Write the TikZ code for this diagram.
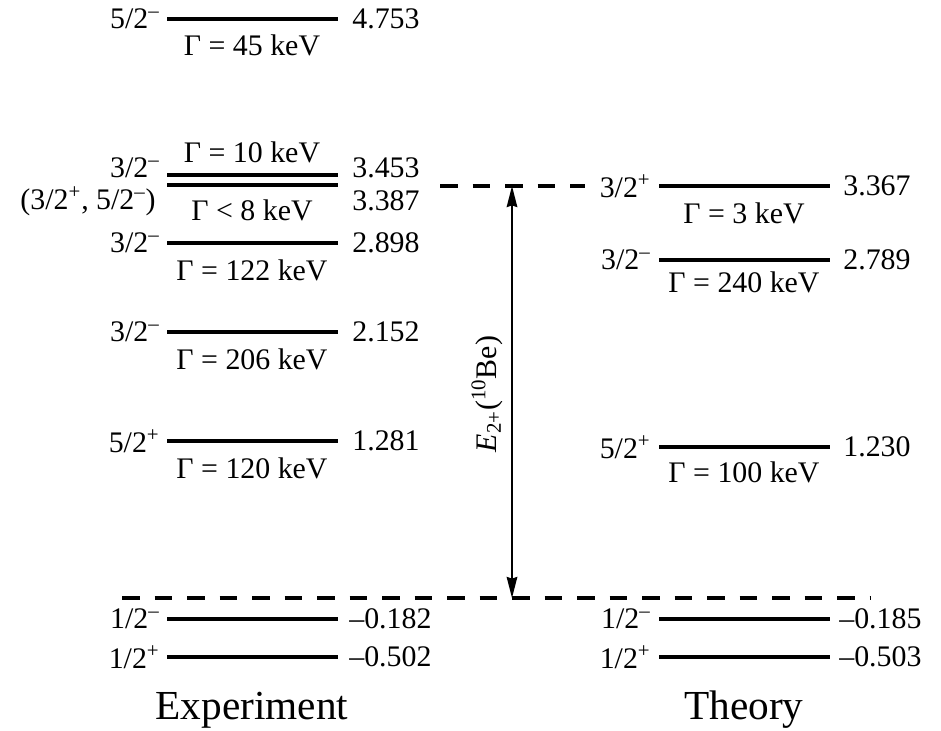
\documentclass[tikz,border=0pt]{standalone}
\usepackage{fontspec}
\setmainfont{Liberation Serif}
\usetikzlibrary{arrows.meta, positioning}

\begin{document}
\begin{tikzpicture}[
    x=0.02cm, y=-0.02cm,
    every node/.style={font=\fontsize{17}{19}\selectfont, inner sep=0pt},
    lvl/.style={line width=2.3pt},
    ref/.style={line width=2.3pt, dash pattern=on 10pt off 8.5pt},
    spin/.style={anchor=east},
    en/.style={anchor=west},
    wid/.style={anchor=center},
    title/.style={font=\fontsize{23.5}{26}\selectfont},
    arr/.style={{Stealth[length=12pt, width=6pt, inset=1pt]}-{Stealth[length=12pt, width=6pt, inset=1pt]}, line width=1.2pt}
]
    \useasboundingbox (0,0) rectangle (941,731);

    % Experiment levels
    \draw[lvl] (167,19) -- (338,19);
    \draw[lvl] (167,175) -- (338,175);
    \draw[lvl] (167,185) -- (338,185);
    \draw[lvl] (167,243) -- (338,243);
    \draw[lvl] (167,332) -- (338,332);
    \draw[lvl] (167,441) -- (338,441);
    \draw[lvl] (167,619) -- (338,619);
    \draw[lvl] (167,657) -- (338,657);

    \node[spin] (s1) at (160,19) {5/2\textsuperscript{–}};
    \node[spin] (s2) at (160,168) {3/2\textsuperscript{–}};
    \node[spin] (s3) at (156,201) {(3/2\textsuperscript{+}, 5/2\textsuperscript{–})};
    \node[spin] (s4) at (160,243) {3/2\textsuperscript{–}};
    \node[spin] (s5) at (160,332) {3/2\textsuperscript{–}};
    \node[spin] (s6) at (160,441) {5/2\textsuperscript{+}};
    \node[spin] (s7) at (160,619) {1/2\textsuperscript{–}};
    \node[spin] (s8) at (160,657) {1/2\textsuperscript{+}};

    \node[en] (e1) at (352,19) {4.753};
    \node[en] (e2) at (352,168) {3.453};
    \node[en] (e3) at (352,201) {3.387};
    \node[en] (e4) at (352,243) {2.898};
    \node[en] (e5) at (352,332) {2.152};
    \node[en] (e6) at (352,441) {1.281};
    \node[en] (e7) at (349,619) {–0.182};
    \node[en] (e8) at (349,657) {–0.502};

    \node[wid] (w1) at (252,45) {Γ = 45 keV};
    \node[wid] (w2) at (252,152) {Γ = 10 keV};
    \node[wid] (w3) at (252,210) {Γ < 8 keV};
    \node[wid] (w4) at (252,270) {Γ = 122 keV};
    \node[wid] (w5) at (252,359) {Γ = 206 keV};
    \node[wid] (w6) at (252,468) {Γ = 120 keV};

    % Theory levels
    \draw[lvl] (659,186) -- (830,186);
    \draw[lvl] (659,260) -- (830,260);
    \draw[lvl] (659,447) -- (830,447);
    \draw[lvl] (659,619) -- (830,619);
    \draw[lvl] (659,657) -- (830,657);

    \node[spin] (t1) at (651,186) {3/2\textsuperscript{+}};
    \node[spin] (t2) at (651,260) {3/2\textsuperscript{–}};
    \node[spin] (t3) at (651,447) {5/2\textsuperscript{+}};
    \node[spin] (t4) at (651,619) {1/2\textsuperscript{–}};
    \node[spin] (t5) at (651,657) {1/2\textsuperscript{+}};

    \node[en] (f1) at (843,186) {3.367};
    \node[en] (f2) at (843,260) {2.789};
    \node[en] (f3) at (843,447) {1.230};
    \node[en] (f4) at (839,619) {–0.185};
    \node[en] (f5) at (839,657) {–0.503};

    \node[wid] (v1) at (744,213) {Γ = 3 keV};
    \node[wid] (v2) at (744,282) {Γ = 240 keV};
    \node[wid] (v3) at (744,472) {Γ = 100 keV};

    % threshold and 2+ energy of 10Be
    \draw[ref] (440,186) -- (585,186);
    \draw[ref] (122,598) -- (870,598);
    \coordinate (hi) at (512,186);
    \coordinate (lo) at (512,598);
    \draw[arr] (lo) -- (hi);
    \node[rotate=90] (ex) at (487,394) {\textit{E}\textsubscript{2+}(\textsuperscript{10}Be)};

    \node[title] (lab1) at (252,710) {Experiment};
    \node[title] (lab2) at (744,710) {Theory};
\end{tikzpicture}
\end{document}
